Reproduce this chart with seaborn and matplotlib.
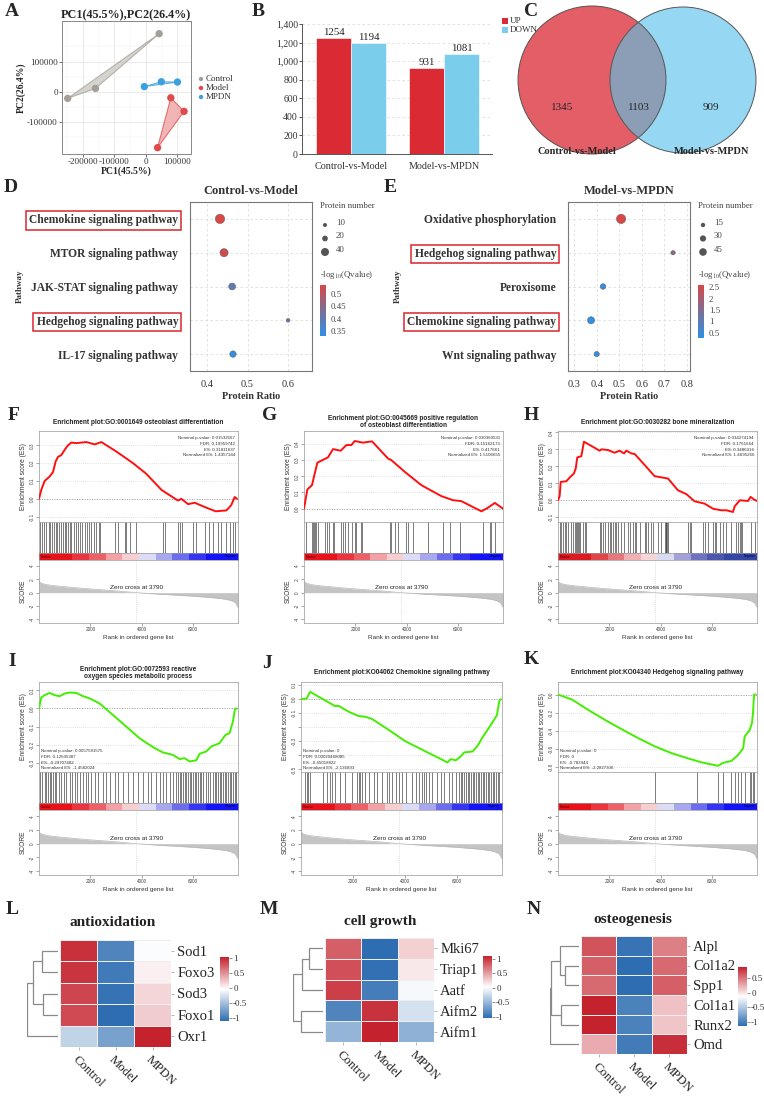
import numpy as np
import pandas as pd
import matplotlib
matplotlib.use("Agg")
import matplotlib.pyplot as plt
import seaborn as sns
from matplotlib.colors import LinearSegmentedColormap, Normalize, ListedColormap
from matplotlib.patches import Circle, Polygon
import matplotlib.cm as cm

sns.set_style("white")
SERIF = ["Liberation Serif", "DejaVu Serif"]
SANS = ["Liberation Sans", "DejaVu Sans"]
plt.rcParams["font.family"] = SERIF
plt.rcParams["mathtext.fontset"] = "stix"

# ---------------- data ----------------
# A: PCA
pca_group = ["Control", "Control", "Control", "Model", "Model", "Model", "MPDN", "MPDN", "MPDN"]
pc1 = [-248000, -160000, 42000, 79000, 121000, 37000, -5000, 49000, 100000]
pc2 = [-22000, 11000, 192000, -20000, -65000, -185000, 17000, 33000, 32000]
pca_levels = ["Control", "Model", "MPDN"]

# B: DEPs
deg_compare = ["Control-vs-Model", "Control-vs-Model", "Model-vs-MPDN", "Model-vs-MPDN"]
deg_dir = ["UP", "DOWN", "UP", "DOWN"]
deg_count = [1254, 1194, 931, 1081]
deg_yticks = [0, 200, 400, 600, 800, 1000, 1200, 1400]

# C: Venn
venn_sets = ["Control-vs-Model", "Model-vs-MPDN"]
venn_only_a, venn_both, venn_only_b = 1345, 1103, 909

# D: KEGG dot plot
d_path = ["Chemokine signaling pathway", "MTOR signaling pathway", "JAK-STAT signaling pathway",
          "Hedgehog signaling pathway", "IL-17 signaling pathway"]
d_ratio = [0.432, 0.442, 0.462, 0.600, 0.464]
d_count = [55, 42, 30, 9, 26]
d_q = [0.535, 0.525, 0.400, 0.410, 0.335]
d_size_legend = [10, 20, 40]
d_cticks = [0.35, 0.4, 0.45, 0.5]

# E
e_path = ["Oxidative phosphorylation", "Hedgehog signaling pathway", "Peroxisome",
          "Chemokine signaling pathway", "Wnt signaling pathway"]
e_ratio = [0.508, 0.738, 0.428, 0.375, 0.400]
e_count = [68, 15, 25, 40, 22]
e_q = [2.59, 1.65, 0.45, 0.28, 0.40]
e_size_legend = [15, 30, 45]
e_cticks = [0.5, 1, 1.5, 2, 2.5]
boxed_paths = ["Chemokine signaling pathway", "Hedgehog signaling pathway"]

# GSEA ranked-list metric (shared)
score_rank = [0, 50, 150, 300, 600, 1000, 1500, 2000, 2500, 3000, 3500, 3790, 4200, 4800,
              5400, 6000, 6600, 7000, 7300, 7500, 7650, 7750]
score_val = [1.7, 1.5, 1.35, 1.2, 1.05, 0.9, 0.72, 0.56, 0.42, 0.28, 0.1, 0.0, -0.1, -0.25,
             -0.38, -0.52, -0.7, -0.85, -1.0, -1.2, -1.5, -2.2]

# F
f_rank = [0, 90, 220, 415, 545, 650, 740, 870, 1000, 1130, 1260, 1455, 1845, 2170, 2430, 3010,
          3660, 4180, 4770, 5090, 5415, 5545, 5805, 6065, 6520, 6880, 7300, 7490, 7620, 7710]
f_es = [0.0, 0.05, 0.10, 0.125, 0.15, 0.21, 0.235, 0.245, 0.275, 0.30, 0.315, 0.312, 0.318, 0.305,
        0.318, 0.265, 0.20, 0.14, 0.05, 0.02, -0.01, 0.0, -0.03, -0.022, -0.05, -0.07, -0.065,
        -0.035, 0.01, 0.0]
f_hits = [50, 130, 200, 290, 390, 440, 510, 580, 650, 700, 780, 870, 940, 1000, 1060, 1130, 1190,
          1260, 1350, 1430, 1520, 1580, 1690, 1780, 1870, 1950, 2040, 2130, 2230, 2340, 2390, 2950,
          3080, 3340, 3380, 3560, 3790, 4830, 4890, 5410, 5480, 5580, 6000, 6130, 6450, 6620, 6780,
          6970, 7100, 7300, 7430, 7550, 7620]
# G
g_rank = [0, 130, 310, 520, 935, 1130, 1430, 1650, 1845, 1975, 2300, 2650, 3270, 3400, 3920, 4570,
          5350, 5800, 6130, 6910, 7170, 7430, 7750]
g_es = [0.0, 0.118, 0.145, 0.284, 0.317, 0.368, 0.358, 0.393, 0.393, 0.418, 0.408, 0.416, 0.31,
        0.30, 0.228, 0.145, 0.077, 0.052, 0.046, -0.017, 0.006, 0.035, 0.0]
g_hits = [90, 310, 350, 390, 415, 455, 545, 805, 910, 960, 1130, 1170, 1455, 1520, 1610, 1710,
          1880, 1970, 2040, 2210, 2260, 3340, 3400, 3530, 3660, 3985, 4050, 4245, 4830, 5410,
          5670, 6060, 6970, 7230, 7295, 7425]
# H
h_rank = [0, 65, 104, 325, 455, 620, 690, 750, 910, 1010, 1300, 1620, 1690, 1950, 2200, 2400, 2570,
          2660, 2860, 2990, 3380, 3760, 4285, 4670, 5000, 5320, 5710, 6040, 6360, 6560, 6815, 6880,
          7080, 7400, 7500, 7640, 7750]
h_es = [0.0, 0.024, 0.108, 0.112, 0.134, 0.158, 0.187, 0.252, 0.26, 0.345, 0.32, 0.292, 0.30, 0.296,
        0.28, 0.292, 0.276, 0.292, 0.276, 0.272, 0.207, 0.142, 0.128, 0.059, 0.036, -0.006, -0.02,
        -0.05, -0.059, -0.059, -0.069, -0.036, 0.0, -0.004, 0.02, 0.004, -0.004]
h_hits = [65, 130, 195, 260, 325, 390, 520, 585, 675, 715, 755, 780, 805, 845, 975, 1040, 1080,
          1620, 1690, 1750, 1820, 1950, 2010, 2050, 2140, 2210, 2270, 2340, 2470, 2570, 2730, 2790,
          2920, 2985, 3050, 3180, 3375, 3440, 3505, 3635, 3700, 3895, 4025, 4155, 4195, 4220, 4245,
          4285, 5065, 5130, 5195, 5650, 5710, 5840, 6035, 6100, 6165, 6295, 6425, 6555, 6750, 6945,
          7010, 7075, 7115, 7165, 7530, 7660]
# I
i_rank = [0, 90, 220, 415, 610, 805, 1000, 1195, 1455, 1715, 1975, 2360, 2880, 3400, 3920, 4440,
          4830, 5215, 5475, 5670, 5865, 6125, 6255, 6515, 6710, 7030, 7265, 7420, 7550, 7630, 7710]
i_es = [0.0, 0.06, 0.073, 0.085, 0.073, 0.067, 0.082, 0.087, 0.085, 0.067, 0.055, 0.027, -0.036,
        -0.10, -0.164, -0.213, -0.242, -0.255, -0.278, -0.273, -0.291, -0.285, -0.249, -0.236,
        -0.209, -0.191, -0.145, -0.136, -0.073, -0.005, 0.0]
i_hits = [50, 130, 220, 285, 350, 415, 480, 545, 610, 675, 780, 870, 960, 1065, 1195, 1300, 1390,
          1480, 1585, 1715, 1815, 1910, 2040, 2170, 2300, 2490, 2620, 2750, 2945, 3075, 3270, 3465,
          3660, 3855, 4050, 4245, 4375, 4570, 4700, 4830, 4960, 5090, 5220, 5350, 5415, 5480, 5545,
          5610, 5670, 5740, 5800, 5870, 5930, 6000, 6060, 6130, 6190, 6260, 6320, 6385, 6490, 6580,
          6645, 6775, 6840, 6905, 6970, 7035, 7100, 7165, 7230, 7295, 7360, 7425, 7490, 7555, 7620,
          7685]
# J
j_rank = [0, 220, 350, 800, 1320, 1450, 1835, 2220, 2480, 2740, 3385, 4030, 4550, 4935, 5320,
          5645, 5775, 5970, 6160, 6290, 6615, 6810, 7000, 7260, 7455, 7555, 7645, 7710]
j_es = [0.0, 0.005, 0.052, 0.005, -0.05, -0.047, -0.089, -0.12, -0.125, -0.141, -0.219, -0.30,
        -0.348, -0.384, -0.419, -0.45, -0.426, -0.435, -0.407, -0.379, -0.372, -0.332, -0.271,
        -0.20, -0.144, -0.113, -0.012, 0.0]
j_hits = [155, 220, 285, 350, 865, 995, 1125, 1190, 1320, 1510, 1705, 1965, 2155, 2220, 2285,
          2350, 2480, 2610, 2805, 2935, 3125, 3320, 3385, 3515, 3645, 3770, 3900, 4030, 4290, 4420,
          4550, 4675, 4740, 4805, 4935, 5065, 5260, 5390, 5515, 5710, 5840, 5970, 6100, 6165, 6225,
          6290, 6355, 6420, 6485, 6550, 6615, 6680, 6745, 6810, 6875, 6940, 7005, 7070, 7130, 7195,
          7260, 7325, 7390, 7455, 7520, 7585, 7650]
# K
k_rank = [0, 545, 1190, 1840, 2485, 3130, 3780, 4425, 5070, 5590, 6230, 6430, 6750, 7010, 7210,
          7270, 7465, 7555, 7595, 7635, 7700]
k_es = [0.0, -0.055, -0.171, -0.28, -0.382, -0.48, -0.571, -0.644, -0.702, -0.745, -0.783, -0.75,
        -0.73, -0.665, -0.59, -0.46, -0.39, -0.31, -0.2, 0.0, 0.0]
k_hits = [3780, 5395, 6235, 6430, 6755, 6885, 7015, 7145, 7275, 7465, 7530, 7595, 7635]

# L-N heatmaps
hm_groups = ["Control", "Model", "MPDN"]
l_genes = ["Sod1", "Foxo3", "Sod3", "Foxo1", "Oxr1"]
l_vals = [[0.98, -0.93, -0.05], [0.95, -1.00, 0.05], [0.88, -1.05, 0.17],
          [0.85, -1.10, 0.22], [-0.35, -0.72, 1.05]]
l_merge = [(0, 1, 1.6), (2, 3, 1.5), (5, 6, 2.5), (7, 4, 3.1)]
m_genes = ["Mki67", "Triap1", "Aatf", "Aifm2", "Aifm1"]
m_vals = [[0.80, -1.05, 0.25], [0.88, -1.02, 0.14], [0.95, -0.93, -0.02],
          [-0.88, 1.02, -0.20], [-0.52, 1.10, -0.55]]
m_merge = [(0, 1, 1.4), (5, 2, 2.1), (3, 4, 2.2), (6, 7, 3.0)]
n_genes = ["Alpl", "Col1a2", "Spp1", "Col1a1", "Runx2", "Omd"]
n_vals = [[0.65, -1.10, 0.45], [0.60, -1.15, 0.55], [0.55, -1.15, 0.60],
          [0.88, -1.00, 0.15], [0.88, -1.00, 0.13], [0.25, -1.05, 0.82]]
n_merge = [(1, 2, 1.5), (0, 6, 2.0), (3, 4, 1.9), (7, 8, 2.9), (9, 5, 3.0)]

# ---------------- figure ----------------
W, H = 764, 1100
fig = plt.figure(figsize=(W / 100, H / 100), dpi=100)


def pax(x0, y0, x1, y1):
    return fig.add_axes([x0 / W, 1 - y1 / H, (x1 - x0) / W, (y1 - y0) / H])


ov = pax(0, 0, W, H)
ov.set_xlim(0, W)
ov.set_ylim(H, 0)
ov.axis("off")
ov.set_zorder(20)

for lab, x, y in [("A", 5, 11), ("B", 252, 11), ("C", 524, 11), ("D", 4, 187), ("E", 384, 187),
                  ("F", 8, 415), ("G", 262, 416), ("H", 524, 415), ("I", 8, 661), ("J", 262, 663),
                  ("K", 524, 660), ("L", 6, 910), ("M", 260, 910), ("N", 527, 909)]:
    ov.text(x, y, lab, fontsize=14, fontweight="bold", family=SERIF, va="center", ha="left")

# ---------- A ----------
pca_col = {"Control": "#A39E96", "Model": "#E04A4C", "MPDN": "#3CA0DE"}
pca_fill = {"Control": "#C9C6C1", "Model": "#EE9C9C", "MPDN": "#9CCFEE"}
ax = pax(62, 21, 191, 154)
dfa = pd.DataFrame({"PC1": pc1, "PC2": pc2, "Group": pca_group})
for g in pca_levels:
    sub = dfa[dfa.Group == g]
    ax.add_patch(Polygon(np.c_[sub.PC1, sub.PC2], closed=True, fc=pca_fill[g], ec=pca_col[g],
                         alpha=0.75, lw=0.8, zorder=2))
sns.scatterplot(data=dfa, x="PC1", y="PC2", hue="Group", palette=pca_col, s=28, edgecolor="none",
                legend=False, ax=ax, zorder=3)
ax.set_xlim(-266000, 143000)
ax.set_ylim(-206000, 234000)
ax.set_xticks([-200000, -100000, 0, 100000])
ax.set_xticklabels(["-200000", "-100000", "0", "100000"], fontsize=6.6)
ax.set_yticks([-100000, 0, 100000])
ax.set_yticklabels(["-100000", "0", "100000"], fontsize=6.6)
ax.set_xticks([-250000, -150000, -50000, 50000], minor=True)
ax.set_yticks([-150000, -50000, 50000, 150000], minor=True)
ax.grid(True, which="major", color="#E6E6E6", lw=0.6)
ax.grid(True, which="minor", color="#F0F0F0", lw=0.35)
ax.tick_params(which="major", left=True, bottom=True, length=2, width=0.5, pad=1, colors="#333")
ax.tick_params(which="minor", length=0)
for s in ax.spines.values():
    s.set_color("#888")
    s.set_linewidth(0.7)
ax.set_xlabel("PC1(45.5%)", fontsize=7, fontweight="bold", labelpad=0)
ax.set_ylabel("PC2(26.4%)", fontsize=7, fontweight="bold", labelpad=1)
ov.text(126, 15, "PC1(45.5%),PC2(26.4%)", ha="center", va="center", fontsize=8.7, fontweight="bold")
for i, g in enumerate(pca_levels):
    ov.scatter(201, 79 + 9 * i, s=10, color=pca_col[g], edgecolor="none")
    ov.text(206, 79 + 9 * i, g, fontsize=6.5, va="center", ha="left", color="#333")

# ---------- B ----------
bar_col = {"UP": "#DA2A33", "DOWN": "#7ACDEB"}
ax = pax(302, 24, 492, 154)
dfb = pd.DataFrame({"Compare": deg_compare, "Direction": deg_dir, "Count": deg_count})
sns.barplot(data=dfb, x="Compare", y="Count", hue="Direction", palette=bar_col, width=0.75,
            saturation=1, edgecolor="white", linewidth=0.4, ax=ax, legend=False, zorder=3)
for cont in ax.containers:
    ax.bar_label(cont, fontsize=7.8, padding=0.5, family=SERIF, color="#222")
ax.set_ylim(0, 1400)
ax.set_xlim(-0.527, 1.51)
ax.set_yticks(deg_yticks)
ax.set_yticklabels([f"{v:,}" for v in deg_yticks], fontsize=7)
ax.set_xticks([0, 1])
ax.set_xticklabels(["Control-vs-Model", "Model-vs-MPDN"], fontsize=7.3)
ax.set_xlabel("")
ax.set_ylabel("")
for v in deg_yticks[1:]:
    ax.axhline(v, color="#DDDDDD", lw=0.6, ls=(0, (3, 3)), zorder=0)
sns.despine(ax=ax, top=True, right=True)
for s in ["left", "bottom"]:
    ax.spines[s].set_color("#555")
    ax.spines[s].set_linewidth(0.7)
ax.tick_params(axis="y", left=True, length=2, width=0.6, pad=1, colors="#333")
ax.tick_params(axis="x", bottom=False, pad=2, colors="#333")
for i, d in enumerate(["UP", "DOWN"]):
    ov.scatter(505, 21 + 9 * i, marker="s", s=16, color=bar_col[d], edgecolor="none")
    ov.text(510, 21 + 9 * i, d, fontsize=6.5, va="center", ha="left", color="#333")

# ---------- C ----------
red_c = Circle((592, 80), 74, fc="#E35E66", ec="none", zorder=1)
blue_c = Circle((683, 80), 73, fc="#96D8F3", ec="none", zorder=1)
inter = Circle((683, 80), 73, fc="#8C9EB5", ec="none", zorder=2)
ov.add_patch(red_c)
ov.add_patch(blue_c)
ov.add_patch(inter)
inter.set_clip_path(red_c)
ov.add_patch(Circle((592, 80), 74, fc="none", ec="#555", lw=0.7, zorder=3))
ov.add_patch(Circle((683, 80), 73, fc="none", ec="#555", lw=0.7, zorder=3))
ov.text(562, 108, f"{venn_only_a}", ha="center", va="center", fontsize=8, zorder=4)
ov.text(639, 107, f"{venn_both}", ha="center", va="center", fontsize=8, zorder=4)
ov.text(711, 108, f"{venn_only_b}", ha="center", va="center", fontsize=8, zorder=4)
ov.text(577, 152, venn_sets[0], ha="center", va="center", fontsize=7.5, fontweight="bold", zorder=4)
ov.text(712, 152, venn_sets[1], ha="center", va="center", fontsize=7.5, fontweight="bold", zorder=4)

# ---------- D / E ----------
dot_cmap = LinearSegmentedColormap.from_list("dot", ["#2F90E6", "#7A6F95", "#D84745"])


def dotplot(box, paths, ratio, count, q, xlim, xticks, qnorm, snorm, smax, title, tx,
            leg_x, leg_sizes, cbox, cticks):
    ax = pax(*box)
    df = pd.DataFrame({"ratio": ratio, "path": paths, "count": count, "q": q})
    sns.scatterplot(data=df, x="ratio", y="path", size="count", sizes=(0, smax), size_norm=(0, snorm),
                    hue="q", palette=dot_cmap, hue_norm=qnorm, legend=False, ax=ax,
                    edgecolor="#555555", linewidth=0.3, zorder=3)
    ax.set_ylim(len(paths) - 0.5, -0.5)
    ax.set_xlim(*xlim)
    ax.set_yticks(range(len(paths)))
    ax.set_yticklabels(paths, fontsize=8.3, fontweight="bold", color="#333")
    ax.set_xticks(xticks)
    ax.set_xticklabels([f"{v:g}" for v in xticks], fontsize=7.5, color="#333")
    for v in xticks:
        ax.axvline(v, color="#DDDDDD", lw=0.6, ls=(0, (3, 3)), zorder=0)
    for i in range(len(paths)):
        ax.axhline(i, color="#DDDDDD", lw=0.6, ls=(0, (3, 3)), zorder=0)
    ax.tick_params(axis="y", left=False, pad=5)
    ax.tick_params(axis="x", bottom=False, pad=3)
    for s in ax.spines.values():
        s.set_color("#777")
        s.set_linewidth(0.8)
    for lab in ax.get_yticklabels():
        if lab.get_text() in boxed_paths:
            lab.set_bbox(dict(boxstyle="square,pad=0.28", fc="none", ec="#D8262F", lw=1.1))
    ax.set_xlabel("Protein Ratio", fontsize=7.3, fontweight="bold", color="#333", labelpad=2)
    ax.set_ylabel("Pathway", fontsize=6.5, fontweight="bold", color="#333", labelpad=4)
    ov.text(tx, 191, title, ha="center", va="center", fontsize=9, fontweight="bold", color="#333")
    ov.text(leg_x, 206, "Protein number", fontsize=6.3, color="#444", va="center")
    for i, v in enumerate(leg_sizes):
        ov.scatter(leg_x + 5, 225 + 13.5 * i, s=v / snorm * smax, color="#555555", edgecolor="none")
        ov.text(leg_x + 16, 223 + 13.5 * i, f"{v}", fontsize=6.3, color="#444", va="center")
    ov.text(leg_x, 275, r"-log$_{10}$(Qvalue)", fontsize=6.3, color="#444", va="center")
    cax = pax(*cbox)
    cb = fig.colorbar(cm.ScalarMappable(norm=Normalize(*qnorm), cmap=dot_cmap), cax=cax, ticks=cticks)
    cb.outline.set_visible(False)
    cb.ax.set_yticklabels([f"{v:g}" for v in cticks])
    cb.ax.tick_params(labelsize=6.3, length=2, color="white", width=0.6, pad=1.5, labelcolor="#444")


dotplot((190, 202, 312, 371), d_path, d_ratio, d_count, d_q, (0.358, 0.659), [0.4, 0.5, 0.6],
        (0.33, 0.537), 60, 50, "Control-vs-Model", 251, 320, d_size_legend,
        (320, 285, 326, 336), d_cticks)
dotplot((568, 202, 690, 371), e_path, e_ratio, e_count, e_q, (0.273, 0.813),
        [0.3, 0.4, 0.5, 0.6, 0.7, 0.8], (0.28, 2.59), 80, 53, "Model-vs-MPDN", 629, 698,
        e_size_legend, (698, 285, 704, 338), e_cticks)

# ---------- GSEA ----------
RANK_MAX = 7750
bar_cols_std = ["#E8121B", "#E8121B", "#EA3540", "#EE6068", "#F4A0A4", "#F8CFD1", "#DCDCF6",
                "#A8A8F0", "#6C6CEE", "#3535F2", "#1414F6", "#1414F6"]
bar_cols_h = ["#DC1A22", "#DC1A22", "#E0454C", "#E6777C", "#EFB0B2", "#F6D6D8", "#DADAF0",
              "#A2A2D8", "#6E72C0", "#4C58B0", "#3446A6", "#3446A6"]


def gsea(x0, x1, ye0, title, title_y, rk, es, hits, color, stats, stats_top, yt, ytl, ylim,
         bar_cols, es_h=91, sc_h=63):
    ye1 = ye0 + es_h
    yh = ye1 + 31
    ax1 = pax(x0, ye0, x1, ye1)
    ax2 = pax(x0, ye1, x1, yh)
    ax3 = pax(x0, yh, x1, yh + 7)
    ax4 = pax(x0, yh + 7, x1, yh + 7 + sc_h)
    for a in (ax1, ax2, ax3, ax4):
        a.set_xlim(0, RANK_MAX)
        for s in a.spines.values():
            s.set_color("#999")
            s.set_linewidth(0.5)
    for v in yt:
        ax1.axhline(v, color="#C8C8C8", lw=0.5, ls=(0, (1, 2)), zorder=0)
    ax1.axhline(0, color="#8C8C8C", lw=0.6, ls=(0, (1, 2)), zorder=0)
    sns.lineplot(x=rk, y=es, ax=ax1, color=color, linewidth=1.4, zorder=3)
    ax1.set_ylim(*ylim)
    ax1.set_xticks([])
    ax1.set_yticks(yt)
    ax1.set_yticklabels(ytl, rotation=90, va="center", fontsize=3.4, family=SANS, color="#444")
    ax1.tick_params(axis="y", left=True, length=2, width=0.4, pad=1, color="#666")
    ax1.set_ylabel("Enrichment score (ES)", fontsize=4.8, family=SANS, labelpad=2, color="#333")
    ax1.set_xlabel("")
    if stats_top:
        ax1.text(0.985, 0.94, "\n".join(stats), transform=ax1.transAxes, ha="right", va="top",
                 fontsize=3.2, family=SANS, linespacing=1.55, color="#333")
    else:
        ax1.text(0.012, 0.02, "\n".join(stats), transform=ax1.transAxes, ha="left", va="bottom",
                 fontsize=3.2, family=SANS, linespacing=1.55, color="#333")
    ov.text((x0 + x1) / 2, title_y, title, ha="center", va="center", fontsize=4.7,
            fontweight="bold", family=SANS, linespacing=1.15, color="#222")
    ax2.vlines(hits, 0, 1, color="#333333", lw=0.45)
    ax2.set_ylim(0, 1)
    ax2.set_xticks([])
    ax2.set_yticks([])
    ax3.imshow(np.arange(len(bar_cols))[None, :], cmap=ListedColormap(bar_cols), aspect="auto",
               extent=[0, RANK_MAX, 0, 1], interpolation="nearest")
    ax3.set_ylim(0, 1)
    ax3.set_xticks([])
    ax3.set_yticks([])
    ax3.text(0.01, 0.5, "Positive", transform=ax3.transAxes, fontsize=2.2, family=SANS,
             va="center", ha="left", color="#400")
    ax3.text(0.99, 0.5, "Negative", transform=ax3.transAxes, fontsize=2.2, family=SANS,
             va="center", ha="right", color="#004")
    ax4.fill_between(score_rank, score_val, 0, color="#C4C4C4", lw=0)
    sns.lineplot(x=score_rank, y=score_val, ax=ax4, color="#B8B8B8", linewidth=0.5)
    ax4.axvline(3790, color="#BBBBBB", lw=0.5, ls=(0, (1, 2)))
    ax4.text(3790, 0.35, "Zero cross at 3790", ha="center", va="bottom", fontsize=4.6,
             family=SANS, color="#222")
    ax4.set_ylim(-4.55, 4.9)
    ax4.set_yticks([-4, -2, 0, 2, 4])
    ax4.set_yticklabels(["-4", "-2", "0", "2", "4"], rotation=90, va="center", fontsize=3.4,
                        family=SANS, color="#444")
    ax4.set_xticks([2000, 4000, 6000])
    ax4.set_xticklabels(["2000", "4000", "6000"], fontsize=3.4, family=SANS, color="#444")
    ax4.tick_params(left=True, bottom=True, length=2, width=0.4, pad=1, color="#666")
    ax4.set_ylabel("SCORE", fontsize=4.8, family=SANS, labelpad=2, color="#333")
    ax4.set_xlabel("Rank in ordered gene list", fontsize=4.6, family=SANS, labelpad=2,
                   color="#333")


def fmt(vals):
    return [f"{v:.1f}" for v in vals]


gsea(39, 238, 431, "Enrichment plot:GO:0001649 osteoblast differentiation", 422, f_rank, f_es,
     f_hits, "#FF1010",
     ["Nominal p-value: 0.01532567", "FDR: 0.19959742", "ES: 0.31811637", "Normalized ES: 1.4357144"],
     True, [-0.1, 0, 0.1, 0.2, 0.3], fmt([-0.1, 0, 0.1, 0.2, 0.3]), (-0.13, 0.38), bar_cols_std)
gsea(304, 503, 431, "Enrichment plot:GO:0045669 positive regulation\nof osteoblast differentiation",
     422, g_rank, g_es, g_hits, "#FF1010",
     ["Nominal p-value: 0.030360531", "FDR: 0.15162173", "ES: 0.417661", "Normalized ES: 1.5106655"],
     True, [0, 0.1, 0.2, 0.3, 0.4], fmt([0, 0.1, 0.2, 0.3, 0.4]), (-0.083, 0.48), bar_cols_std)
gsea(558, 757, 431, "Enrichment plot:GO:0030282 bone mineralization", 422, h_rank, h_es, h_hits,
     "#FF1010",
     ["Nominal p-value: 0.034274194", "FDR: 0.1761664", "ES: 0.3486316", "Normalized ES: 1.4695266"],
     True, [-0.1, 0, 0.1, 0.2, 0.3, 0.4], fmt([-0.1, 0, 0.1, 0.2, 0.3, 0.4]), (-0.128, 0.408),
     bar_cols_h)
gsea(39, 238, 682, "Enrichment plot:GO:0072593 reactive\noxygen species metabolic process", 673,
     i_rank, i_es, i_hits, "#44EE00",
     ["Nominal p-value: 0.0057581575", "FDR: 0.12605387", "ES: -0.29707482",
      "Normalized ES: -1.4582024"],
     False, [-0.3, -0.2, -0.1, 0, 0.1], fmt([-0.3, -0.2, -0.1, 0, 0.1]), (-0.349, 0.145),
     bar_cols_std, es_h=90, sc_h=65)
gsea(301, 502, 682, "Enrichment plot:KO04062 Chemokine signaling pathway", 673, j_rank, j_es,
     j_hits, "#44EE00",
     ["Nominal p-value: 0", "FDR: 0.00020468085", "ES: -0.45018822", "Normalized ES: -2.136893"],
     False, [-0.5, -0.4, -0.3, -0.2, -0.1, 0, 0.1], ["-0.5", "", "-0.3", "", "-0.1", "0.0", "0.1"],
     (-0.518, 0.122), bar_cols_std, es_h=90, sc_h=65)
gsea(558, 757, 682, "Enrichment plot:KO04340 Hedgehog signaling pathway", 673, k_rank, k_es,
     k_hits, "#44EE00",
     ["Nominal p-value: 0", "FDR: 0", "ES: -0.783444", "Normalized ES: -2.2827306"],
     False, [-0.8, -0.6, -0.4, -0.2, 0], fmt([-0.8, -0.6, -0.4, -0.2, 0]), (-0.851, 0.138),
     bar_cols_std, es_h=90, sc_h=65)

# ---------- heatmaps ----------
hm_cmap = LinearSegmentedColormap.from_list("hm", ["#2E6DB1", "#FFFFFF", "#C4222D"])


def dendro(ax, merges, n):
    pos = {i: i + 0.5 for i in range(n)}
    hgt = {i: 0.0 for i in range(n)}
    for k, (a, b, h) in enumerate(merges):
        ax.plot([hgt[a], h, h, hgt[b]], [pos[a], pos[a], pos[b], pos[b]], color="#8A8A8A", lw=0.9,
                solid_joinstyle="miter")
        pos[n + k] = (pos[a] + pos[b]) / 2
        hgt[n + k] = h
    ax.set_ylim(n, 0)
    ax.set_xlim(max(m[2] for m in merges) + 0.03, 0)
    ax.axis("off")


def heat(box, cbox, dx0, title, tx, ty, genes, vals, merges, cticks):
    ax = pax(*box)
    df = pd.DataFrame(vals, index=genes, columns=hm_groups)
    cax = pax(*cbox)
    arr = np.array(vals)
    sns.heatmap(df, ax=ax, cmap=hm_cmap, vmin=arr.min(), vmax=arr.max(), linewidths=0.6,
                linecolor="#EEEEEE", cbar_ax=cax, cbar_kws={"ticks": cticks})
    ax.yaxis.tick_right()
    ax.set_yticklabels(genes, rotation=0, fontsize=10.5, family=SERIF, color="#222")
    ax.set_xticklabels(hm_groups, rotation=-45, ha="left", rotation_mode="anchor", fontsize=9.2,
                       family=SERIF, color="#222")
    ax.tick_params(axis="y", right=True, left=False, length=2.5, width=0.5, color="#999", pad=2)
    ax.tick_params(axis="x", bottom=True, length=2.5, width=0.5, color="#999", pad=2)
    ax.set_xlabel("")
    ax.set_ylabel("")
    cb = ax.collections[0].colorbar
    cb.outline.set_visible(False)
    cb.ax.set_yticklabels([f"{v:g}" for v in cticks])
    cb.ax.tick_params(labelsize=6.5, length=2, width=0.5, color="#666", pad=1, labelcolor="#333")
    ov.text(tx, ty, title, ha="center", va="center", fontsize=11, fontweight="bold", color="#222")
    dax = pax(dx0, box[1], box[0] - 2, box[3])
    dendro(dax, merges, len(genes))


heat((60, 940, 171, 1047), (220, 957, 229, 1021), 27, "antioxidation", 113, 923, l_genes, l_vals,
     l_merge, [-1, -0.5, 0, 0.5, 1])
heat((325, 938, 434, 1042), (483, 956, 492, 1018), 293, "cell growth", 380, 921, m_genes, m_vals,
     m_merge, [-1, -0.5, 0, 0.5, 1])
heat((581, 936, 687, 1054), (738, 967, 747, 1026), 550, "osteogenesis", 633, 919, n_genes, n_vals,
     n_merge, [-1, -0.5, 0, 0.5])

fig.savefig("out.png", dpi=100)
